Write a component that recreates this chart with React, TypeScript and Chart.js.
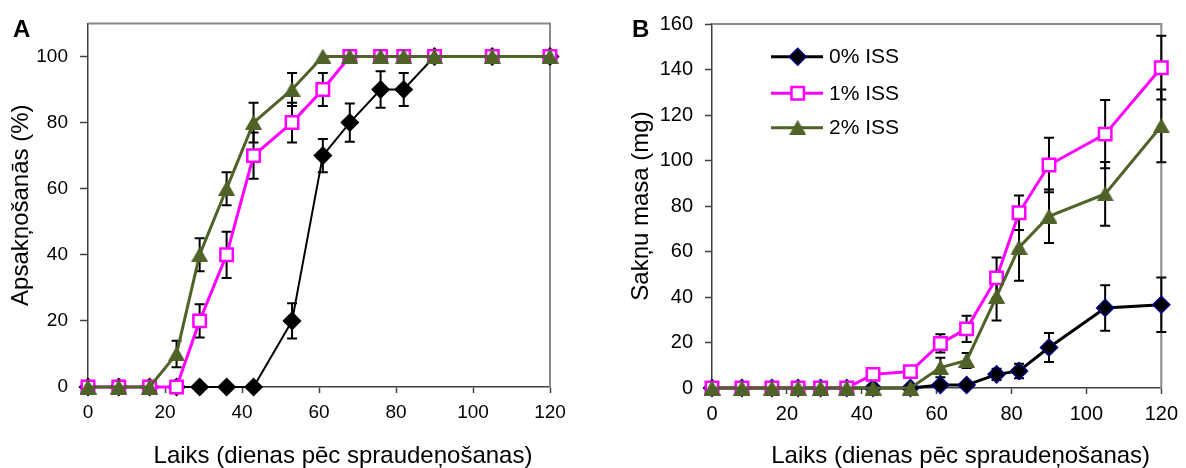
import React, { useEffect, useRef } from 'react';
import { Chart, registerables } from 'chart.js';

Chart.register(...registerables);

// ---- Data ----
const days = [0, 8, 16, 23, 29, 36, 43, 53, 61, 68, 76, 82, 90, 105, 120];
const seriesLabels = ['0% ISS', '1% ISS', '2% ISS'];

// Panel A: rooting (%)
const rootingIss0 = [0, 0, 0, 0, 0, 0, 0, 20, 70, 80, 90, 90, 100, 100, 100];
const rootingIss0Err = [null, null, null, null, null, null, null, 5.3, 5, 5.8, 5.5, 5, null, null, null];
const rootingIss1 = [0, 0, 0, 0, 20, 40, 70, 80, 90, 100, 100, 100, 100, 100, 100];
const rootingIss1Err = [null, null, null, null, 5, 7, 7, 6, 5, null, null, null, null, null, null];
const rootingIss2 = [0, 0, 0, 10, 40, 60, 80, 90, 100, 100, 100, 100, 100, 100, 100];
const rootingIss2Err = [null, null, null, 4, 5, 5, 6, 5, null, null, null, null, null, null, null];

// Panel B: root mass (mg)
const massIss0 = [0, 0, 0, 0, 0, 0, 0, 0, 1.3, 1.3, 6, 7.5, 17.8, 35.2, 36.6];
const massIss0Err = [null, null, null, null, null, null, null, null, null, null, 2.5, 3.2, 6.4, 10, 12];
const massIss1 = [0, 0, 0, 0, 0, 0, 6, 7.2, 19.6, 26, 48.4, 77, 98, 111.6, 140.8];
const massIss1Err = [null, null, null, null, null, null, null, null, 4, 5.8, 9, 7.6, 12, 15, 14];
const massIss2 = [0, 0, 0, 0, 0, 0, 0, 0, 9, 12.1, 40.2, 61.8, 75.5, 85.3, 115.2];
const massIss2Err = [null, null, null, null, null, null, null, null, 4.3, 3.3, 10.5, 14.7, 11.8, 14, 16];

const xTitle = 'Laiks (dienas pēc spraudeņošanas)';
const yTitleA = 'Apsakņošanās (%)';
const yTitleB = 'Sakņu masa (mg)';

const FONT = '"Liberation Sans", Arial, Helvetica, sans-serif';
const PINK = '#ff00ff';
const OLIVE = '#4f6228';
const AXIS = '#404040';

function makeTriangle(color: string): HTMLCanvasElement {
  const c = document.createElement('canvas');
  c.width = 17;
  c.height = 15;
  const g = c.getContext('2d') as CanvasRenderingContext2D;
  g.fillStyle = color;
  g.strokeStyle = color;
  g.lineWidth = 1;
  g.beginPath();
  g.moveTo(8.5, 0.5);
  g.lineTo(16.5, 14.5);
  g.lineTo(0.5, 14.5);
  g.closePath();
  g.fill();
  g.stroke();
  return c;
}

type SeriesStyle = {
  color: string; lineWidth: number; pointStyle: any; radius: number;
  fill: string; stroke: string; strokeWidth: number;
};

function buildStyles(diamondStroke: string, blackLine: number): SeriesStyle[] {
  return [
    { color: '#000000', lineWidth: blackLine, pointStyle: 'rectRot', radius: 8.5, fill: '#000000', stroke: diamondStroke, strokeWidth: 1.5 },
    { color: PINK, lineWidth: 3, pointStyle: 'rect', radius: 8.8, fill: '#ffffff', stroke: PINK, strokeWidth: 2.5 },
    { color: OLIVE, lineWidth: 3, pointStyle: 'triangleImg', radius: 9, fill: OLIVE, stroke: OLIVE, strokeWidth: 1 },
  ];
}

type Panel = {
  letter: string; letterX: number;
  values: number[][]; errors: (number | null)[][]; styles: SeriesStyle[];
  yMax: number; yTickMax: number; yTitle: string; tickSize: number;
  padding: { left: number; top: number; right: number; bottom: number };
  yWidth: number; yTitlePad: number; xHeight: number; yTickLen: number;
  legend: boolean;
};

const panelA: Panel = {
  letter: 'A', letterX: 13,
  values: [rootingIss0, rootingIss1, rootingIss2],
  errors: [rootingIss0Err, rootingIss1Err, rootingIss2Err],
  styles: buildStyles('#000000', 2),
  yMax: 110, yTickMax: 100, yTitle: yTitleA, tickSize: 19,
  padding: { left: 0, top: 21, right: 43, bottom: 0 },
  yWidth: 88, yTitlePad: 7, xHeight: 81, yTickLen: 8,
  legend: false,
};

const panelB: Panel = {
  letter: 'B', letterX: 39,
  values: [massIss0, massIss1, massIss2],
  errors: [massIss0Err, massIss1Err, massIss2Err],
  styles: buildStyles('#000080', 3),
  yMax: 160, yTickMax: 160, yTitle: yTitleB, tickSize: 20,
  padding: { left: 30, top: 18, right: 20, bottom: 0 },
  yWidth: 89, yTitlePad: 4, xHeight: 80, yTickLen: 7,
  legend: true,
};

function drawMarker(ctx: CanvasRenderingContext2D, s: SeriesStyle, tri: HTMLCanvasElement, x: number, y: number) {
  ctx.save();
  if (s.pointStyle === 'triangleImg') {
    ctx.drawImage(tri, x - tri.width / 2, y - tri.height / 2);
    ctx.restore();
    return;
  }
  ctx.fillStyle = s.fill;
  ctx.strokeStyle = s.stroke;
  ctx.lineWidth = s.strokeWidth;
  ctx.beginPath();
  const r = s.radius;
  if (s.pointStyle === 'rectRot') {
    ctx.moveTo(x, y - r); ctx.lineTo(x + r, y); ctx.lineTo(x, y + r); ctx.lineTo(x - r, y); ctx.closePath();
  } else {
    const h = r * Math.SQRT1_2;
    ctx.rect(x - h, y - h, 2 * h, 2 * h);
  }
  ctx.fill();
  ctx.stroke();
  ctx.restore();
}

const underlayPlugin = {
  id: 'underlay',
  beforeDatasetsDraw(chart: any) {
    const { ctx, chartArea: ca, scales } = chart;
    ctx.save();
    ctx.strokeStyle = '#888888';
    ctx.lineWidth = 2;
    ctx.beginPath();
    ctx.moveTo(ca.left, ca.top);
    ctx.lineTo(ca.right, ca.top);
    ctx.lineTo(ca.right, ca.bottom);
    ctx.stroke();

    ctx.strokeStyle = '#000000';
    ctx.lineWidth = 2;
    chart.data.datasets.forEach((ds: any) => {
      const errs = ds.errors as (number | null)[];
      if (!errs) return;
      ds.data.forEach((pt: any, j: number) => {
        const e = errs[j];
        if (e == null) return;
        const x = scales.x.getPixelForValue(pt.x);
        const y1 = scales.y.getPixelForValue(pt.y + e);
        const y2 = scales.y.getPixelForValue(pt.y - e);
        ctx.beginPath();
        ctx.moveTo(x, y1); ctx.lineTo(x, y2);
        ctx.moveTo(x - 5, y1); ctx.lineTo(x + 5, y1);
        ctx.moveTo(x - 5, y2); ctx.lineTo(x + 5, y2);
        ctx.stroke();
      });
    });
    ctx.restore();
  },
};

const overlayPlugin = {
  id: 'overlay',
  afterDraw(chart: any, _args: any, opts: any) {
    const { ctx, chartArea: ca } = chart;
    const panel: Panel = opts.panel;
    const tri: HTMLCanvasElement = opts.tri;
    ctx.save();
    ctx.fillStyle = '#000';
    ctx.textBaseline = 'alphabetic';
    ctx.textAlign = 'left';
    ctx.font = `bold 24px ${FONT}`;
    ctx.fillText(panel.letter, panel.letterX, 37);

    ctx.font = `24px ${FONT}`;
    ctx.textAlign = 'center';
    ctx.fillText(xTitle, (ca.left + ca.right) / 2 + 24, 463);

    if (panel.legend) {
      const rows = [56.7, 93.3, 127.7];
      panel.styles.forEach((s, i) => {
        const y = rows[i];
        ctx.strokeStyle = s.color;
        ctx.lineWidth = s.lineWidth;
        ctx.beginPath();
        ctx.moveTo(178, y);
        ctx.lineTo(230, y);
        ctx.stroke();
        drawMarker(ctx, s, tri, 204.7, y);
        ctx.fillStyle = '#000';
        ctx.font = `21px ${FONT}`;
        ctx.textAlign = 'left';
        ctx.textBaseline = 'middle';
        ctx.fillText(seriesLabels[i], 236, y + 1);
      });
    }
    ctx.restore();
  },
};

function buildConfig(panel: Panel): any {
  const tri = makeTriangle(OLIVE);
  return {
    type: 'line',
    data: {
      datasets: panel.values.map((vals, i) => {
        const s = panel.styles[i];
        return {
          label: seriesLabels[i],
          data: days.map((d, j) => ({ x: d, y: vals[j] })),
          errors: panel.errors[i],
          borderColor: s.color,
          borderWidth: s.lineWidth,
          backgroundColor: s.fill,
          pointStyle: s.pointStyle === 'triangleImg' ? tri : s.pointStyle,
          pointRadius: s.radius,
          pointHoverRadius: s.radius,
          pointBackgroundColor: s.fill,
          pointBorderColor: s.stroke,
          pointBorderWidth: s.strokeWidth,
          tension: 0,
          clip: false,
          order: 3 - i,
        };
      }),
    },
    options: {
      animation: false,
      responsive: false,
      devicePixelRatio: 1,
      events: [],
      layout: { padding: panel.padding },
      plugins: {
        legend: { display: false },
        tooltip: { enabled: false },
        overlay: { panel, tri },
      },
      scales: {
        x: {
          type: 'linear',
          min: 0,
          max: 120,
          ticks: { stepSize: 20, color: '#000', font: { family: FONT, size: panel.tickSize }, padding: 8, maxRotation: 0 },
          grid: { display: true, drawOnChartArea: false, drawTicks: true, tickLength: 6, tickColor: AXIS, tickWidth: 1.5 },
          border: { display: true, color: AXIS, width: 1.5 },
          afterFit: (s: any) => { s.height = panel.xHeight; },
        },
        y: {
          type: 'linear',
          min: 0,
          max: panel.yMax,
          ticks: { stepSize: 20, includeBounds: false, color: '#000', font: { family: FONT, size: panel.tickSize }, padding: 12 },
          afterBuildTicks: (s: any) => { s.ticks = s.ticks.filter((t: any) => t.value <= panel.yTickMax); },
          grid: { display: true, drawOnChartArea: false, drawTicks: true, tickLength: panel.yTickLen, tickColor: AXIS, tickWidth: 1.5 },
          border: { display: true, color: AXIS, width: 1.5 },
          title: { display: true, text: panel.yTitle, color: '#000', font: { family: FONT, size: 24 }, padding: { top: panel.yTitlePad, bottom: 0 } },
          afterFit: (s: any) => { s.width = panel.yWidth; },
        },
      },
    },
    plugins: [underlayPlugin, overlayPlugin],
  };
}

export default function App() {
  const refA = useRef<HTMLCanvasElement>(null);
  const refB = useRef<HTMLCanvasElement>(null);
  useEffect(() => {
    const a = new Chart(refA.current as HTMLCanvasElement, buildConfig(panelA));
    const b = new Chart(refB.current as HTMLCanvasElement, buildConfig(panelB));
    return () => { a.destroy(); b.destroy(); };
  }, []);
  return (
    <div style={{ position: 'absolute', left: 0, top: 0, width: 1186, height: 468, background: '#fff' }}>
      <canvas ref={refA} width={593} height={468} style={{ position: 'absolute', left: 0, top: 0 }} />
      <canvas ref={refB} width={593} height={468} style={{ position: 'absolute', left: 593, top: 0 }} />
    </div>
  );
}
